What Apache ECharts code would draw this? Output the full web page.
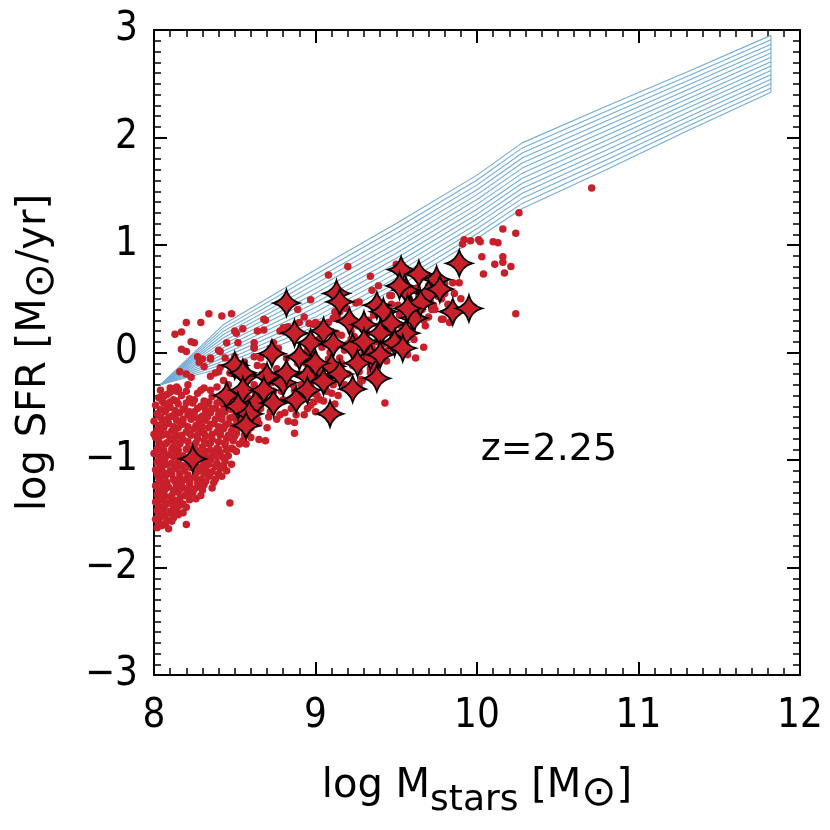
<!DOCTYPE html>
<html>
<head>
<meta charset="utf-8">
<script src="https://cdn.jsdelivr.net/npm/echarts@6/dist/echarts.min.js"></script>
<style>
  html, body { margin: 0; padding: 0; background: #fff; }
  #chart { width: 830px; height: 830px; }
</style>
</head>
<body>
<div id="chart"></div>
<script>
// main-sequence band (upper / lower bounds share the same masses)
const bandMass = [8.04, 8.43, 9.0, 9.5, 10.0, 10.28, 10.8, 11.3, 11.82];
const bandLow  = [-0.30, -0.14, 0.20, 0.60, 1.06, 1.34, 1.70, 2.06, 2.42];
const bandHigh = [-0.30, 0.26, 0.77, 1.20, 1.65, 1.95, 2.29, 2.61, 2.95];
const hatchSteps = 13;

// dense low-mass cloud
const dotsCloud = [
  [8.03,-0.42],[8.08,-0.39],[8.12,-0.44],[8.17,-0.40],[8.22,-0.43],[8.27,-0.38],[8.31,-0.45],[8.36,-0.41],[8.41,-0.44],[8.46,-0.40],[8.50,-0.45],
  [8.01,-0.49],[8.06,-0.47],[8.10,-0.51],[8.15,-0.48],[8.19,-0.52],[8.24,-0.47],[8.29,-0.50],[8.33,-0.48],[8.38,-0.52],[8.43,-0.49],[8.48,-0.53],[8.53,-0.48],
  [8.02,-0.57],[8.07,-0.55],[8.11,-0.59],[8.16,-0.56],[8.21,-0.58],[8.25,-0.55],[8.30,-0.59],[8.35,-0.56],[8.40,-0.58],[8.44,-0.55],[8.49,-0.60],[8.54,-0.57],[8.60,-0.55],
  [8.00,-0.64],[8.05,-0.62],[8.09,-0.66],[8.14,-0.63],[8.18,-0.66],[8.23,-0.62],[8.28,-0.65],[8.32,-0.63],[8.37,-0.66],[8.42,-0.62],[8.46,-0.66],[8.51,-0.63],[8.56,-0.66],[8.62,-0.62],
  [8.02,-0.72],[8.06,-0.70],[8.11,-0.73],[8.15,-0.70],[8.20,-0.74],[8.25,-0.71],[8.29,-0.73],[8.34,-0.70],[8.39,-0.74],[8.43,-0.71],[8.48,-0.73],[8.53,-0.70],[8.58,-0.74],
  [8.01,-0.79],[8.05,-0.77],[8.10,-0.80],[8.14,-0.78],[8.18,-0.81],[8.23,-0.77],[8.27,-0.80],[8.32,-0.78],[8.36,-0.81],[8.41,-0.77],[8.45,-0.80],[8.50,-0.78],[8.55,-0.82],[8.60,-0.79],
  [8.03,-0.87],[8.07,-0.85],[8.12,-0.88],[8.16,-0.85],[8.21,-0.89],[8.25,-0.86],[8.30,-0.88],[8.34,-0.85],[8.39,-0.89],[8.44,-0.86],[8.48,-0.89],[8.53,-0.85],
  [8.00,-0.94],[8.05,-0.92],[8.09,-0.95],[8.14,-0.93],[8.18,-0.96],[8.28,-0.94],[8.32,-0.92],[8.37,-0.95],[8.41,-0.93],[8.46,-0.96],[8.51,-0.92],
  [8.02,-1.02],[8.06,-1.00],[8.11,-1.03],[8.15,-1.01],[8.31,-1.02],[8.35,-1.00],[8.39,-1.03],[8.44,-1.01],[8.48,-1.04],
  [8.01,-1.09],[8.05,-1.07],[8.10,-1.10],[8.14,-1.08],[8.19,-1.10],[8.23,-1.07],[8.28,-1.10],[8.32,-1.08],[8.36,-1.11],[8.41,-1.08],[8.45,-1.10],
  [8.03,-1.17],[8.07,-1.15],[8.12,-1.18],[8.16,-1.15],[8.20,-1.18],[8.25,-1.16],[8.29,-1.18],[8.34,-1.15],[8.38,-1.18],[8.42,-1.15],
  [8.01,-1.24],[8.05,-1.22],[8.09,-1.25],[8.14,-1.23],[8.18,-1.26],[8.22,-1.22],[8.27,-1.25],[8.31,-1.23],[8.36,-1.26],
  [8.02,-1.32],[8.06,-1.30],[8.11,-1.33],[8.15,-1.30],[8.19,-1.33],[8.24,-1.31],[8.29,-1.33],
  [8.01,-1.39],[8.05,-1.37],[8.09,-1.40],[8.13,-1.38],[8.18,-1.41],[8.22,-1.37],
  [8.02,-1.47],[8.06,-1.45],[8.10,-1.48],[8.14,-1.46],[8.18,-1.49],
  [8.01,-1.55],[8.04,-1.53],[8.08,-1.56],[8.12,-1.54],
  [8.02,-1.63],[8.05,-1.61],[8.09,-1.64],
  [8.04,-0.35],[8.10,-0.37],[8.15,-0.34],[8.20,-0.36],[8.29,-0.35],
  [8.05,-0.45],[8.10,-0.46],[8.14,-0.45],[8.20,-0.47],[8.25,-0.44],[8.34,-0.46],[8.39,-0.47],[8.45,-0.45],
  [8.04,-0.53],[8.08,-0.52],[8.13,-0.54],[8.18,-0.53],[8.22,-0.55],[8.27,-0.52],[8.32,-0.54],[8.36,-0.52],[8.41,-0.55],[8.46,-0.52],[8.51,-0.55],[8.56,-0.52],
  [8.04,-0.60],[8.09,-0.61],[8.13,-0.60],[8.18,-0.62],[8.23,-0.60],[8.27,-0.61],[8.33,-0.60],[8.38,-0.62],[8.42,-0.59],[8.47,-0.61],[8.52,-0.60],[8.57,-0.61],
  [8.03,-0.68],[8.07,-0.67],[8.12,-0.69],[8.17,-0.67],[8.21,-0.69],[8.26,-0.68],[8.30,-0.69],[8.35,-0.67],[8.40,-0.69],[8.44,-0.68],[8.49,-0.69],[8.54,-0.67],[8.59,-0.69],
  [8.00,-0.76],[8.04,-0.74],[8.08,-0.76],[8.13,-0.75],[8.17,-0.77],[8.22,-0.75],[8.27,-0.77],[8.31,-0.75],[8.36,-0.76],[8.41,-0.75],[8.46,-0.77],[8.51,-0.75],[8.56,-0.77],
  [8.03,-0.83],[8.08,-0.84],[8.12,-0.82],[8.16,-0.84],[8.21,-0.83],[8.26,-0.84],[8.31,-0.82],[8.35,-0.84],[8.40,-0.83],[8.44,-0.84],[8.49,-0.82],[8.57,-0.85],
  [8.02,-0.90],[8.06,-0.91],[8.11,-0.90],[8.15,-0.91],[8.20,-0.90],[8.26,-0.91],[8.30,-0.90],[8.35,-0.91],[8.40,-0.90],[8.45,-0.91],[8.49,-0.90],
  [8.03,-0.97],[8.07,-0.98],[8.12,-0.97],[8.16,-0.98],[8.30,-0.97],[8.34,-0.98],[8.39,-0.97],[8.43,-0.98],
  [8.04,-1.05],[8.08,-1.04],[8.13,-1.06],[8.17,-1.05],[8.21,-1.04],[8.26,-1.05],[8.30,-1.06],[8.34,-1.04],[8.38,-1.06],[8.43,-1.05],
  [8.02,-1.13],[8.06,-1.12],[8.11,-1.13],[8.16,-1.12],[8.21,-1.14],[8.26,-1.12],[8.31,-1.13],[8.35,-1.12],[8.40,-1.13],
  [8.04,-1.20],[8.08,-1.21],[8.13,-1.20],[8.17,-1.21],[8.22,-1.20],[8.27,-1.21],[8.32,-1.20],[8.37,-1.21],
  [8.03,-1.28],[8.07,-1.27],[8.12,-1.28],[8.16,-1.27],[8.21,-1.28],[8.25,-1.27],[8.30,-1.28],
  [8.03,-1.35],[8.07,-1.34],[8.11,-1.35],[8.16,-1.36],[8.21,-1.34],[8.26,-1.36],
  [8.03,-1.43],[8.07,-1.42],[8.12,-1.43],[8.16,-1.42],[8.20,-1.44],
  [8.03,-1.50],[8.07,-1.51],[8.11,-1.50],[8.15,-1.51],
  [8.03,-1.58],[8.07,-1.59],[8.11,-1.57]
];

// ridge of the sequence, mostly under the stars
const dotsRidge = [
  [8.58,-0.42],[8.62,-0.30],[8.66,-0.52],[8.68,-0.38],[8.71,-0.60],[8.73,-0.28],[8.75,-0.50],[8.79,-0.36],[8.81,-0.56],[8.83,-0.16],
  [8.84,-0.44],[8.86,-0.30],[8.88,-0.58],[8.90,-0.20],[8.92,-0.40],[8.94,-0.10],[8.95,-0.52],[8.97,-0.30],[8.99,-0.02],[9.01,-0.40],
  [9.02,-0.18],[9.04,0.05],[9.06,-0.32],[9.08,-0.06],[9.10,-0.22],[9.12,0.10],[9.14,-0.40],[9.16,-0.10],[9.18,0.02],[9.20,-0.20],
  [9.22,0.20],[9.25,-0.02],[9.27,-0.18],[9.29,0.12],[9.31,-0.08],[9.33,0.30],[9.35,0.05],[9.37,-0.12],[9.39,0.22],[9.42,0.08],
  [9.44,-0.08],[9.46,0.36],[9.48,0.15],[9.51,0.44],[9.53,0.25],[9.55,0.10],[9.58,0.50],[9.60,0.22],[9.63,0.60],[9.66,0.40],
  [9.68,0.25],[9.71,0.48],[9.74,0.62],[9.80,0.55],[8.60,-0.70],[8.64,-0.62],[8.70,-0.70],[8.76,-0.62],
  [8.46,-0.30],[8.48,-0.52],[8.52,-0.38],[8.54,-0.62],[8.56,-0.28],[8.60,-0.48],[8.63,-0.38],[8.65,-0.66],[8.67,-0.20],[8.70,-0.45],
  [8.72,-0.55],[8.74,-0.36],[8.76,-0.15],[8.78,-0.58],[8.80,-0.44],[8.82,-0.05],[8.85,-0.52],[8.87,-0.35],[8.89,-0.10],[8.91,-0.30],
  [8.93,-0.58],[8.95,0.02],[8.98,-0.38],[9.00,-0.20],[9.02,0.12],[9.05,-0.45],[9.07,-0.12],[9.09,0.00],[9.11,-0.30],[9.13,0.18],
  [9.15,-0.05],[9.18,-0.30],[9.20,0.08],[9.23,-0.12],[9.26,0.25],[9.28,-0.25],[9.30,0.00],[9.32,0.18],[9.34,-0.15],[9.36,0.35],
  [9.38,0.10],[9.41,-0.05],[9.43,0.28],[9.45,0.02],[9.47,0.45],[9.50,0.18],[9.52,0.35],[9.55,0.55],[9.58,0.30],[9.61,0.12],
  [9.64,0.52],[9.67,0.30],[9.70,0.62],[9.72,0.40],[9.76,0.52],[9.82,0.45],[9.86,0.55],[9.90,0.50]
];

// scattered points around the sequence
const dotsScatter = [
  [10.71,1.53],[10.26,1.30],[10.24,1.11],[10.16,1.15],[9.92,1.05],[9.91,1.01],[9.96,1.04],[10.01,1.05],[10.02,1.03],[10.10,1.03],
  [10.13,1.02],[10.03,0.89],[10.16,0.89],[10.16,0.84],[10.11,0.82],[10.21,0.80],[10.04,0.73],[10.17,0.74],[9.89,0.65],[9.85,0.65],
  [10.24,0.36],[9.80,0.64],[9.78,0.31],[9.83,0.28],[9.70,0.33],[9.73,0.44],[9.74,0.40],[9.98,0.42],[9.46,0.53],[9.78,0.50],
  [9.50,0.82],[9.34,0.71],[9.39,0.62],[9.35,0.58],[9.20,0.80],[9.08,0.72],[8.97,0.49],[8.89,0.40],[9.27,0.47],[9.25,0.46],
  [9.47,0.53],[9.67,0.05],[9.62,-0.05],[9.79,0.31],[9.12,0.38],[8.90,0.28],[9.00,0.28],[8.81,0.23],[8.69,0.30],[8.64,0.20],
  [8.68,0.21],[8.55,0.22],[8.50,0.20],[8.52,0.09],[8.62,0.05],[8.45,0.09],[8.41,0.01],[8.34,0.36],[8.42,0.34],[8.48,0.36],
  [8.20,0.28],[8.29,0.28],[8.13,0.17],[8.17,0.19],[8.23,0.10],[8.25,0.09],[8.17,0.03],[8.20,0.01],[8.27,-0.04],[8.30,-0.06],
  [8.28,-0.09],[8.35,-0.06],[8.31,-0.13],[8.40,-0.18],[8.35,-0.22],[8.16,-0.18],[8.20,-0.20],[8.23,-0.23],[8.10,-0.33],[8.14,-0.32],
  [8.14,-0.36],[8.06,-0.41],[8.39,-0.32],[8.35,-0.35],[8.31,-0.33],[8.68,0.31],[8.62,0.09],[8.62,0.04],[8.74,0.09],[8.77,0.04],
  [8.80,0.23],[8.78,0.20],[8.83,0.24],[8.96,0.27],[9.03,0.26],[9.08,0.28],[9.14,0.31],[9.11,0.32],[9.19,0.41],[8.35,-0.05],
  [8.40,0.02],[8.51,0.18],[8.72,0.04],[8.73,-0.02],[8.56,-0.09],[8.62,-0.04],[8.66,-0.05],[8.68,-0.13],[8.64,-0.12],[8.50,-0.04],
  [8.48,-0.09],[8.44,-0.05],[8.41,-0.14],[8.38,-0.19],[8.43,-0.26],[8.47,-0.19],[8.05,-0.41],[8.15,-0.35],[8.21,-0.30],[9.15,0.38],
  [9.13,0.33],[8.93,0.33],[8.99,0.26],[9.04,0.22],[9.16,0.16],[9.24,0.15],[9.22,0.12],[9.37,-0.13],[9.34,-0.19],[9.55,0.03],
  [9.57,-0.02],[9.36,-0.26],[9.29,-0.26],[9.27,-0.30],[9.20,-0.32],[9.10,-0.38],[9.07,-0.36],[9.03,-0.44],[8.99,-0.46],[8.97,-0.49],
  [9.00,-0.55],[9.12,-0.48],[9.43,-0.47],[8.87,-0.75],[8.87,-0.65],[8.83,-0.64],[8.69,-0.82],[8.65,-0.81],[8.47,-1.40],[8.20,-1.60]
];

// star-marked galaxies
const stars = [
  [9.89,0.83],[9.53,0.77],[9.64,0.73],[9.75,0.68],[9.56,0.58],[9.70,0.55],[9.77,0.59],[9.52,0.62],
  [8.82,0.46],[9.13,0.55],[9.15,0.47],[9.85,0.38],[9.95,0.41],[9.38,0.44],[9.59,0.40],[9.42,0.38],
  [9.21,0.29],[9.30,0.26],[9.47,0.27],[9.61,0.32],[9.56,0.18],[8.87,0.18],[9.05,0.20],[9.40,0.18],
  [9.49,0.09],[9.54,0.04],[8.97,0.09],[9.11,0.08],[9.23,0.05],[8.73,-0.01],[8.90,-0.04],[9.34,-0.04],
  [9.40,-0.02],[8.50,-0.12],[9.26,-0.10],[9.38,-0.24],[8.57,-0.22],[8.70,-0.22],[9.23,-0.34],[8.80,-0.28],
  [8.95,-0.22],[9.10,-0.13],[9.05,-0.27],[8.82,-0.19],[8.55,-0.19],[8.45,-0.40],[8.55,-0.35],[8.63,-0.47],
  [8.74,-0.47],[8.88,-0.44],[8.52,-0.50],[8.59,-0.57],[8.57,-0.68],[9.09,-0.57],[8.24,-0.99],[9.65,0.46],
  [9.57,0.41],[9.00,-0.10],[9.15,-0.20],[8.68,-0.35],[9.30,0.10],[8.95,-0.35]
];

const massTicks = [8, 9, 10, 11, 12];
const sfrTicks = [-3, -2, -1, 0, 1, 2, 3];

const BAND = '#74acd4';
const RED = '#c8202a';
const TICKFONT = "'DejaVu Sans Condensed', 'DejaVu Sans', sans-serif";
const TITLEFONT = "'DejaVu Sans', sans-serif";

const hatch = [];
for (let k = 0; k <= hatchSteps; k++) {
  const f = k / hatchSteps;
  hatch.push({
    type: 'line', silent: true, showSymbol: false, animation: false, z: 1,
    lineStyle: { color: BAND, width: 1.1 },
    data: bandMass.map((m, i) => [m, bandLow[i] + f * (bandHigh[i] - bandLow[i])])
  });
}
const last = bandMass.length - 1;
hatch.push({
  type: 'line', silent: true, showSymbol: false, animation: false, z: 1,
  lineStyle: { color: BAND, width: 1.1 },
  data: [[bandMass[last], bandLow[last]], [bandMass[last], bandHigh[last]]]
});

const STAR = 'path://M0,-10 Q2.2,-2.2 10,0 Q2.2,2.2 0,10 Q-2.2,2.2 -10,0 Q-2.2,-2.2 0,-10 Z';

function frameAxis(extra) {
  return Object.assign({
    type: 'value',
    axisLine: { show: true, onZero: false, lineStyle: { color: '#000', width: 2 } },
    axisTick: { show: true, inside: true, length: 13, lineStyle: { color: '#000', width: 2 } },
    minorTick: { show: true, splitNumber: 10, length: 7, lineStyle: { color: '#000', width: 1.5 } },
    splitLine: { show: false },
    minorSplitLine: { show: false }
  }, extra);
}

const xTitle = '{a|log M}{s|stars}{a| [M}{o|⊙}{a|]}';
const yTitle = '{a|log SFR [M}{o|⊙}{a|/yr]}';
const titleRich = {
  a: { fontSize: 40, fontFamily: TITLEFONT, color: '#000' },
  s: { fontSize: 36, fontFamily: TITLEFONT, color: '#000', padding: [28, 0, 0, 0] },
  o: { fontSize: 42, fontFamily: TITLEFONT, color: '#000', padding: [14, 0, 0, 0] }
};

const chart = echarts.init(document.getElementById('chart'), null, { renderer: 'canvas' });
chart.setOption({
  animation: false,
  backgroundColor: '#fff',
  grid: { left: 154, right: 30, top: 30, bottom: 155 },
  xAxis: [
    frameAxis({
      min: massTicks[0], max: massTicks[massTicks.length - 1], interval: 1, position: 'bottom',
      axisLabel: { fontSize: 40, fontFamily: TICKFONT, color: '#000', margin: 22 },
      name: xTitle, nameLocation: 'middle', nameGap: 80,
      nameTextStyle: { rich: titleRich }
    }),
    frameAxis({
      min: massTicks[0], max: massTicks[massTicks.length - 1], interval: 1, position: 'top',
      axisLabel: { show: false }
    })
  ],
  yAxis: [
    frameAxis({
      min: sfrTicks[0], max: sfrTicks[sfrTicks.length - 1], interval: 1, position: 'left',
      axisLabel: {
        fontSize: 40, fontFamily: TICKFONT, color: '#000', margin: 16,
        formatter: v => String(v).replace('-', '\u2212')
      },
      name: yTitle, nameLocation: 'middle', nameGap: 91,
      nameTextStyle: { rich: titleRich }
    }),
    frameAxis({
      min: sfrTicks[0], max: sfrTicks[sfrTicks.length - 1], interval: 1, position: 'right',
      axisLabel: { show: false }
    })
  ],
  graphic: [{
    type: 'text', x: 549, y: 450, z: 10,
    style: {
      text: 'z=2.25', fill: '#000', font: "38px 'DejaVu Sans'",
      textAlign: 'center', textVerticalAlign: 'middle'
    }
  }],
  series: hatch.concat([
    {
      type: 'scatter', data: dotsCloud.concat(dotsRidge, dotsScatter), z: 2,
      symbolSize: 7.5, itemStyle: { color: RED, opacity: 1 }, silent: true
    },
    {
      type: 'scatter', data: stars, z: 3, symbol: STAR, symbolSize: 26,
      itemStyle: { color: RED, opacity: 1, borderColor: '#000', borderWidth: 1.8 }, silent: true
    }
  ])
});
</script>
</body>
</html>
